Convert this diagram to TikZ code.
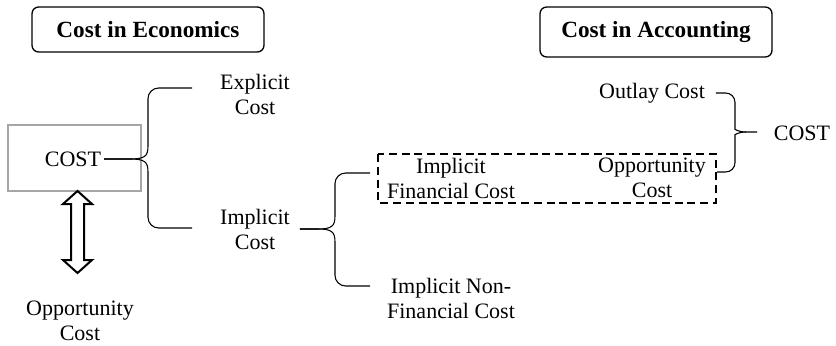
\documentclass[tikz,border=0pt]{standalone}
\usepackage{fontspec}
\setmainfont{Liberation Serif}
\usetikzlibrary{calc}

\tikzset{
  txt/.style={align=center, inner sep=2pt, font=\fontsize{16.5}{18.75}\selectfont},
  titlebox/.style={draw, line width=1pt, rounded corners=5pt, inner sep=0pt,
    font=\fontsize{17.4}{20}\selectfont\bfseries},
  brc/.style={draw, line width=0.8pt},
}

\begin{document}
\begin{tikzpicture}[x=0.75pt, y=-0.75pt]
  \useasboundingbox (0, 0) rectangle (836, 346);

  % headings
  \node[titlebox, minimum width=174pt, minimum height=33.75pt] (econ) at (148, 29.5) {Cost in Economics};
  \node[titlebox, minimum width=174pt, minimum height=37.5pt] (acc) at (656, 32) {Cost in Accounting};

  % economics side
  \node[draw=gray!70, line width=0.8pt, minimum width=99.75pt, minimum height=49.5pt] (costbox) at (74.5, 158) {};
  \node[txt] (ecost) at (73, 159) {COST};
  \node[txt] (explicit) at (255, 94) {Explicit\\Cost};
  \node[txt] (implicit) at (255, 229) {Implicit\\Cost};
  \node[txt] (oppl) at (80, 321) {Opportunity\\Cost};

  \coordinate (lb1) at (192, 88);
  \coordinate (lb2) at (192, 228);
  \draw[brc] (ecost.east) -- (130, 159) .. controls (145, 159) and (148, 156) .. (148, 146) [rounded corners=8] |- (lb1);
  \draw[brc] (ecost.east) -- (130, 159) .. controls (145, 159) and (148, 162) .. (148, 172) [rounded corners=8] |- (lb2);

  \coordinate (atop) at (77.5, 191);
  \draw[line width=1.5pt, line join=miter, fill=white] (atop) -- ++(14.5, 13) -- ++(-8, 0) -- ++(0, 56) -- ++(8, 0)
    -- ++(-14.5, 13) -- ++(-14.5, -13) -- ++(8, 0) -- ++(0, -56) -- ++(-8, 0) -- cycle;

  \node[txt] (ifin) at (451, 178) {Implicit\\Financial Cost};
  \node[txt] (inonfin) at (451, 298) {Implicit Non-\\Financial Cost};

  \coordinate (mb1) at (370, 173);
  \coordinate (mb2) at (370, 286);
  \draw[brc] (implicit.east) ++(7, 0) -- (318, 229) .. controls (332, 229) and (335, 226) .. (335, 216) [rounded corners=8] |- (mb1);
  \draw[brc] (implicit.east) ++(7, 0) -- (318, 229) .. controls (332, 229) and (335, 232) .. (335, 242) [rounded corners=8] |- (mb2);

  % accounting side
  \node[txt] (outlay) at (652, 93) {Outlay Cost};
  \node[txt] (oppr) at (652, 178) {Opportunity\\Cost};
  \node[txt] (acost) at (802, 133) {COST};

  \draw[line width=1.5pt, dash pattern=on 6pt off 3.6pt] (378, 154) rectangle (716, 203);

  \coordinate (rb2) at (717, 172);
  \coordinate (rtip) at (757, 132);
  \draw[brc] (outlay.east) ++(8, 0) [rounded corners=7] -| (735, 120) [sharp corners] .. controls (735, 129) and (738, 132) .. (746, 132) -- (rtip);
  \draw[brc] (rb2) [rounded corners=7] -| (735, 144) [sharp corners] .. controls (735, 135) and (738, 132) .. (746, 132);
\end{tikzpicture}
\end{document}
